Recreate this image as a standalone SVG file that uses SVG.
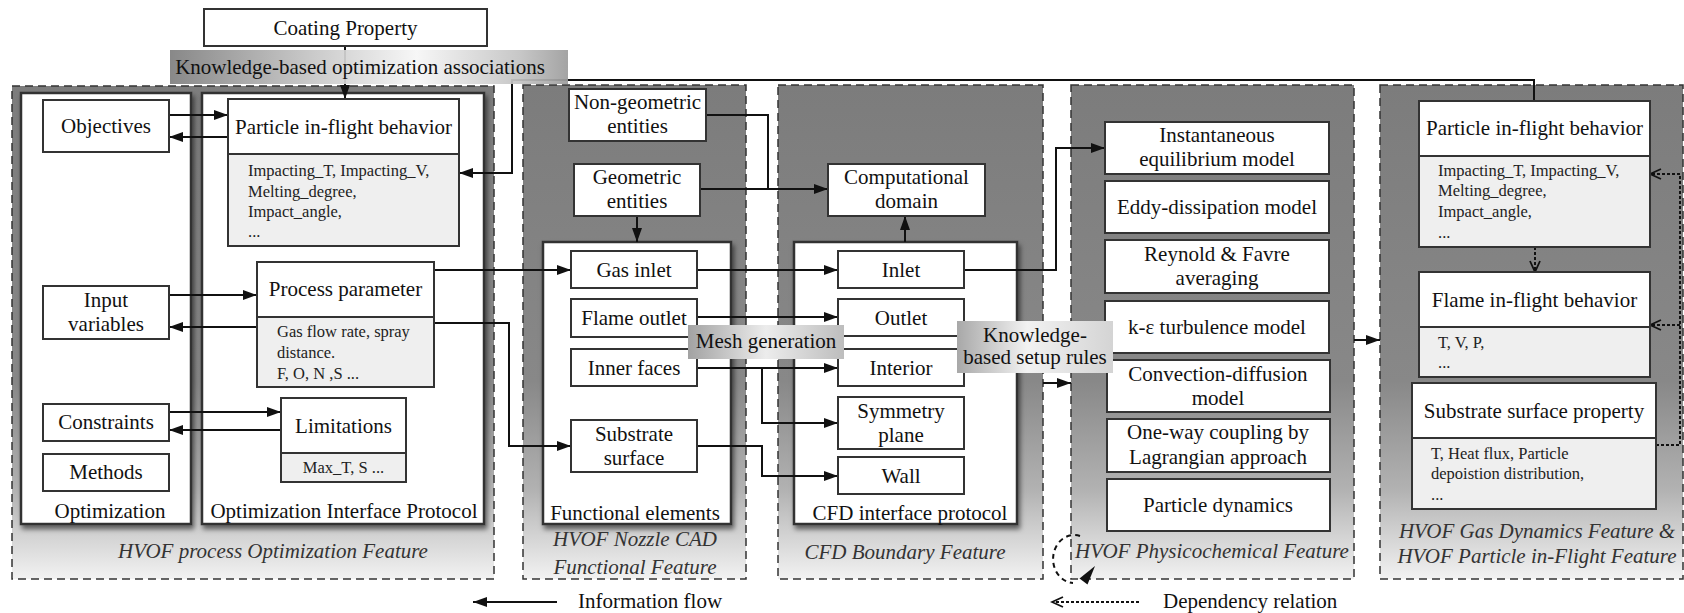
<svg xmlns="http://www.w3.org/2000/svg" width="1684" height="613" viewBox="0 0 1684 613">
<defs>
  <linearGradient id="featureFill" x1="0" y1="0" x2="0" y2="1">
    <stop offset="0" stop-color="#7c7c7c"/>
    <stop offset="0.6" stop-color="#888888"/>
    <stop offset="0.82" stop-color="#b2b2b2"/>
    <stop offset="1" stop-color="#f2f2f2"/>
  </linearGradient>
  <linearGradient id="bandFill" x1="0" y1="0" x2="1" y2="0">
    <stop offset="0" stop-color="#7e7e7e"/>
    <stop offset="0.35" stop-color="#c4c4c4"/>
    <stop offset="0.62" stop-color="#f6f6f6"/>
    <stop offset="0.88" stop-color="#c2c2c2"/>
    <stop offset="1" stop-color="#9c9c9c"/>
  </linearGradient>
  <linearGradient id="labelFill" x1="0" y1="0" x2="1" y2="0">
    <stop offset="0" stop-color="#a2a2a2"/>
    <stop offset="0.5" stop-color="#ececec"/>
    <stop offset="1" stop-color="#bdbdbd"/>
  </linearGradient>
  <linearGradient id="label2Fill" x1="0" y1="0" x2="1" y2="0">
    <stop offset="0" stop-color="#a8a8a8"/>
    <stop offset="0.45" stop-color="#f2f2f2"/>
    <stop offset="1" stop-color="#d4d4d4"/>
  </linearGradient>
  <filter id="shadow" x="-10%" y="-10%" width="130%" height="130%">
    <feDropShadow dx="2" dy="4" stdDeviation="2.5" flood-color="#000" flood-opacity="0.55"/>
  </filter>
  <marker id="arrow" markerUnits="userSpaceOnUse" markerWidth="14" markerHeight="10" refX="14" refY="5" orient="auto">
    <path d="M0,0 L14,5 L0,10 z" fill="#111"/>
  </marker>
  <marker id="openArrow" markerUnits="userSpaceOnUse" markerWidth="14" markerHeight="12" refX="12" refY="6" orient="auto">
    <path d="M1,1 L12,6 L1,11" fill="none" stroke="#111" stroke-width="1.8"/>
  </marker>
</defs>
<style>
  .feat{fill:url(#featureFill);stroke:#333;stroke-width:1.5;stroke-dasharray:8 5}
  .panel{fill:#fff;stroke:#333;stroke-width:2.5;filter:url(#shadow)}
  .box{fill:#fff;stroke:#333;stroke-width:2}
  .detail{fill:#efefef;stroke:#333;stroke-width:2}
  .t{font-family:"Liberation Serif","Times New Roman",serif;font-size:21px;fill:#111;text-anchor:middle}
  .s{font-family:"Liberation Serif","Times New Roman",serif;font-size:16.5px;fill:#222}
  .sc{font-family:"Liberation Serif","Times New Roman",serif;font-size:16.5px;fill:#222;text-anchor:middle}
  .it{font-family:"Liberation Serif","Times New Roman",serif;font-size:21px;font-style:italic;fill:#333;text-anchor:middle}
  .lg{font-family:"Liberation Serif","Times New Roman",serif;font-size:21px;fill:#111}
  .flow{fill:none;stroke:#111;stroke-width:2;marker-end:url(#arrow)}
  .line{fill:none;stroke:#111;stroke-width:2}
  .dep{fill:none;stroke:#111;stroke-width:2;stroke-dasharray:3 2}
  .depA{fill:none;stroke:#111;stroke-width:2;stroke-dasharray:3 2;marker-end:url(#openArrow)}
</style>

<!-- feature containers -->
<g id="feature-optimization">
  <rect class="feat" x="12" y="86" width="482" height="493"/>
  <rect class="panel" x="21" y="93" width="170" height="431"/>
  <rect class="panel" x="202" y="93" width="282" height="431"/>
  <text class="t" x="110" y="518">Optimization</text>
  <text class="t" x="344" y="518">Optimization Interface Protocol</text>
  <text class="it" x="273" y="558">HVOF process Optimization Feature</text>
</g>
<g id="feature-nozzle">
  <rect class="feat" x="523" y="85" width="223" height="494"/>
  <rect class="panel" x="543" y="242" width="188" height="282"/>
  <text class="t" x="635" y="520">Functional elements</text>
  <text class="it" x="635" y="546">HVOF Nozzle CAD</text>
  <text class="it" x="635" y="574">Functional Feature</text>
</g>
<g id="feature-cfd">
  <rect class="feat" x="778" y="85" width="265" height="494"/>
  <rect class="panel" x="794" y="242" width="223" height="282"/>
  <text class="t" x="910" y="520">CFD interface protocol</text>
  <text class="it" x="905" y="559">CFD Boundary Feature</text>
</g>
<g id="feature-physicochemical">
  <rect class="feat" x="1071" y="85" width="283" height="494"/>
  <text class="it" x="1212" y="558">HVOF Physicochemical Feature</text>
</g>
<g id="feature-gas-dynamics">
  <rect class="feat" x="1380" y="85" width="303" height="494"/>
  <text class="it" x="1537" y="538">HVOF Gas Dynamics Feature &amp;</text>
  <text class="it" x="1537" y="563">HVOF Particle in-Flight Feature</text>
</g>

<!-- connectors -->
<g id="connectors">
  <path class="flow" d="M345,46 V99"/>
  <path class="flow" d="M169,115 H228"/>
  <path class="flow" d="M228,137 H169"/>
  <path class="flow" d="M169,295 H257"/>
  <path class="flow" d="M257,327 H169"/>
  <path class="flow" d="M169,412 H281"/>
  <path class="flow" d="M281,430 H169"/>
  <path class="flow" d="M434,270 H571"/>
  <path class="flow" d="M434,323 H509 V446 H571"/>
  <path class="flow" d="M1534,101 V80 H512 V173 H459"/>
  <path class="line" d="M706,115 H768 V189"/>
  <path class="flow" d="M700,189 H828"/>
  <path class="flow" d="M637,216 V242"/>
  <path class="flow" d="M905,242 V216"/>
  <path class="flow" d="M697,270 H838"/>
  <path class="flow" d="M697,317 H838"/>
  <path class="flow" d="M697,368 H838"/>
  <path class="flow" d="M762,368 V423 H838"/>
  <path class="flow" d="M697,446 H762 V476 H838"/>
  <path class="flow" d="M964,270 H1056 V148 H1105"/>
  <path class="flow" d="M1043,383 H1071"/>
  <path class="flow" d="M1354,340 H1380"/>
  <path class="depA" d="M1535,247 V272"/>
  <path class="dep" d="M1656,445 H1680 V174"/>
  <path class="depA" d="M1680,174 H1650"/>
  <path class="depA" d="M1680,325 H1650"/>
  <!-- self-dependency loop of the physicochemical feature -->
  <path fill="none" stroke="#111" stroke-width="2" stroke-dasharray="5 4" d="M1080,536 A21,24 0 1 0 1073,583"/>
  <path fill="#111" d="M1095,566 L1087.5,584.5 L1079.5,578.5 z"/>
</g>

<!-- top-level nodes -->
<g id="coating-property">
  <rect class="box" x="204" y="9" width="283" height="37"/>
  <text class="t" x="345.5" y="35">Coating Property</text>
</g>

<!-- optimization panel nodes -->
<g id="objectives">
  <rect class="box" x="43" y="100" width="126" height="52"/>
  <text class="t" x="106" y="133">Objectives</text>
</g>
<g id="input-variables">
  <rect class="box" x="43" y="286" width="126" height="53"/>
  <text class="t" x="106" y="307">Input</text>
  <text class="t" x="106" y="331">variables</text>
</g>
<g id="constraints">
  <rect class="box" x="43" y="404" width="126" height="37"/>
  <text class="t" x="106" y="429">Constraints</text>
</g>
<g id="methods">
  <rect class="box" x="43" y="454" width="126" height="37"/>
  <text class="t" x="106" y="479">Methods</text>
</g>

<!-- interface protocol nodes -->
<g id="opt-particle-behavior">
  <rect class="detail" x="228" y="154" width="231" height="92"/>
  <rect class="box" x="228" y="99" width="231" height="55"/>
  <text class="t" x="343.5" y="134">Particle in-flight behavior</text>
  <text class="s" x="248" y="176">Impacting_T, Impacting_V,</text>
  <text class="s" x="248" y="197">Melting_degree,</text>
  <text class="s" x="248" y="217">Impact_angle,</text>
  <text class="s" x="248" y="237">...</text>
</g>
<g id="process-parameter">
  <rect class="detail" x="257" y="317" width="177" height="70"/>
  <rect class="box" x="257" y="262" width="177" height="55"/>
  <text class="t" x="345.5" y="296">Process parameter</text>
  <text class="s" x="277" y="337">Gas flow rate, spray</text>
  <text class="s" x="277" y="358">distance.</text>
  <text class="s" x="277" y="379">F, O, N ,S ...</text>
</g>
<g id="limitations">
  <rect class="detail" x="281" y="453" width="125" height="29"/>
  <rect class="box" x="281" y="398" width="125" height="55"/>
  <text class="t" x="343.5" y="433">Limitations</text>
  <text class="sc" x="343.5" y="473">Max_T, S ...</text>
</g>

<!-- nozzle CAD nodes -->
<g id="non-geometric-entities">
  <rect class="box" x="569" y="89" width="137" height="52"/>
  <text class="t" x="637.5" y="109">Non-geometric</text>
  <text class="t" x="637.5" y="133">entities</text>
</g>
<g id="geometric-entities">
  <rect class="box" x="574" y="164" width="126" height="52"/>
  <text class="t" x="637" y="184">Geometric</text>
  <text class="t" x="637" y="208">entities</text>
</g>
<g id="gas-inlet">
  <rect class="box" x="571" y="251" width="126" height="37"/>
  <text class="t" x="634" y="277">Gas inlet</text>
</g>
<g id="flame-outlet">
  <rect class="box" x="571" y="299" width="126" height="38"/>
  <text class="t" x="634" y="325">Flame outlet</text>
</g>
<g id="inner-faces">
  <rect class="box" x="571" y="349" width="126" height="37"/>
  <text class="t" x="634" y="375">Inner faces</text>
</g>
<g id="substrate-surface">
  <rect class="box" x="571" y="420" width="126" height="52"/>
  <text class="t" x="634" y="441">Substrate</text>
  <text class="t" x="634" y="465">surface</text>
</g>

<!-- CFD boundary nodes -->
<g id="computational-domain">
  <rect class="box" x="828" y="164" width="157" height="52"/>
  <text class="t" x="906.5" y="184">Computational</text>
  <text class="t" x="906.5" y="208">domain</text>
</g>
<g id="inlet">
  <rect class="box" x="838" y="251" width="126" height="37"/>
  <text class="t" x="901" y="277">Inlet</text>
</g>
<g id="outlet">
  <rect class="box" x="838" y="299" width="126" height="37"/>
  <text class="t" x="901" y="325">Outlet</text>
</g>
<g id="interior">
  <rect class="box" x="838" y="349" width="126" height="37"/>
  <text class="t" x="901" y="375">Interior</text>
</g>
<g id="symmetry-plane">
  <rect class="box" x="838" y="397" width="126" height="52"/>
  <text class="t" x="901" y="418">Symmetry</text>
  <text class="t" x="901" y="442">plane</text>
</g>
<g id="wall">
  <rect class="box" x="838" y="457" width="126" height="37"/>
  <text class="t" x="901" y="483">Wall</text>
</g>

<!-- physicochemical models -->
<g id="instantaneous-equilibrium">
  <rect class="box" x="1105" y="122" width="224" height="52"/>
  <text class="t" x="1217" y="142">Instantaneous</text>
  <text class="t" x="1217" y="166">equilibrium model</text>
</g>
<g id="eddy-dissipation">
  <rect class="box" x="1105" y="181" width="224" height="52"/>
  <text class="t" x="1217" y="214">Eddy-dissipation model</text>
</g>
<g id="reynold-favre">
  <rect class="box" x="1105" y="240" width="224" height="53"/>
  <text class="t" x="1217" y="261">Reynold &amp; Favre</text>
  <text class="t" x="1217" y="285">averaging</text>
</g>
<g id="k-epsilon">
  <rect class="box" x="1105" y="301" width="224" height="52"/>
  <text class="t" x="1217" y="334">k-ε turbulence model</text>
</g>
<g id="convection-diffusion">
  <rect class="box" x="1107" y="360" width="223" height="52"/>
  <text class="t" x="1218" y="381">Convection-diffusion</text>
  <text class="t" x="1218" y="405">model</text>
</g>
<g id="one-way-coupling">
  <rect class="box" x="1107" y="419" width="223" height="53"/>
  <text class="t" x="1218" y="439">One-way coupling by</text>
  <text class="t" x="1218" y="464">Lagrangian approach</text>
</g>
<g id="particle-dynamics">
  <rect class="box" x="1107" y="479" width="223" height="52"/>
  <text class="t" x="1218" y="512">Particle dynamics</text>
</g>

<!-- gas dynamics / particle in-flight nodes -->
<g id="gd-particle-behavior">
  <rect class="detail" x="1419" y="156" width="231" height="91"/>
  <rect class="box" x="1419" y="101" width="231" height="55"/>
  <text class="t" x="1534.5" y="135">Particle in-flight behavior</text>
  <text class="s" x="1438" y="176">Impacting_T, Impacting_V,</text>
  <text class="s" x="1438" y="196">Melting_degree,</text>
  <text class="s" x="1438" y="217">Impact_angle,</text>
  <text class="s" x="1438" y="238">...</text>
</g>
<g id="flame-behavior">
  <rect class="detail" x="1419" y="327" width="231" height="50"/>
  <rect class="box" x="1419" y="272" width="231" height="55"/>
  <text class="t" x="1534.5" y="307">Flame in-flight behavior</text>
  <text class="s" x="1438" y="348">T, V, P,</text>
  <text class="s" x="1438" y="368">...</text>
</g>
<g id="substrate-surface-property">
  <rect class="detail" x="1412" y="438" width="244" height="71"/>
  <rect class="box" x="1412" y="383" width="244" height="55"/>
  <text class="t" x="1534" y="418">Substrate surface property</text>
  <text class="s" x="1431" y="459">T, Heat flux, Particle</text>
  <text class="s" x="1431" y="479">depoistion distribution,</text>
  <text class="s" x="1431" y="500">...</text>
</g>

<!-- overlay labels -->
<g id="knowledge-optimization-associations">
  <rect x="170" y="50" width="398" height="34" fill="url(#bandFill)" fill-opacity="0.92"/>
  <text class="t" x="360" y="74">Knowledge-based optimization associations</text>
</g>
<g id="mesh-generation">
  <rect x="688" y="325" width="156" height="34" fill="url(#labelFill)"/>
  <text class="t" x="766" y="348">Mesh generation</text>
</g>
<g id="knowledge-setup-rules">
  <rect x="957" y="321" width="156" height="52" fill="url(#label2Fill)"/>
  <text class="t" x="1035" y="342">Knowledge-</text>
  <text class="t" x="1035" y="364">based setup rules</text>
</g>

<!-- legend -->
<g id="legend">
  <path class="flow" d="M557,602 H473"/>
  <text class="lg" x="578" y="608">Information flow</text>
  <path class="depA" d="M1139,602 H1052"/>
  <text class="lg" x="1163" y="608">Dependency relation</text>
</g>
</svg>
